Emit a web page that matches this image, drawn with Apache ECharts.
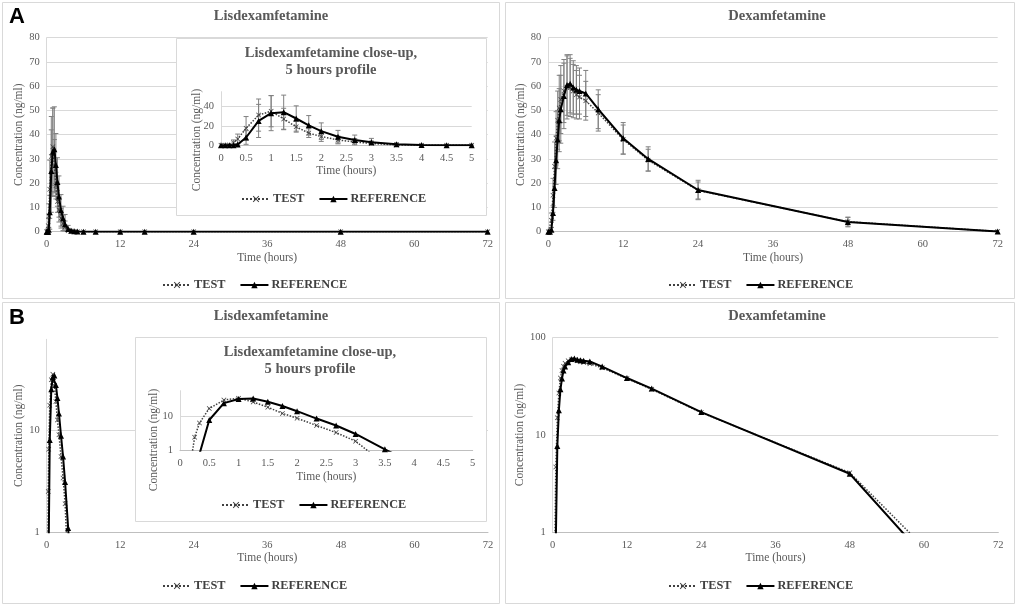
<!DOCTYPE html>
<html>
<head>
<meta charset="utf-8">
<script src="https://cdn.jsdelivr.net/npm/echarts@6/dist/echarts.min.js"></script>
<style>
  html, body { margin: 0; padding: 0; background: #fff; }
  #main { width: 1017px; height: 606px; }
</style>
</head>
<body>
<div id="main"></div>
<script>
// sampling times (hours)
var lisTimes = [0, 0.083, 0.167, 0.25, 0.333, 0.5, 0.75, 1, 1.25, 1.5, 1.75, 2, 2.333, 2.667, 3, 3.5, 4, 4.5, 5, 6, 8, 12, 16, 24, 48, 72];
var lisTest = [0, 0, 0.3, 2.5, 6.5, 17.5, 31, 35, 27, 19, 12.5, 9, 5.5, 3.4, 1.9, 0.4, 0.15, 0, 0, 0, 0, 0, 0, 0, 0, 0];
var lisRef = [0, 0, 0, 0, 0.8, 8, 25, 33, 34, 27.5, 20.5, 14.5, 8.8, 5.5, 3.1, 1.1, 0.4, 0.15, 0.05, 0, 0, 0, 0, 0, 0, 0];
var lisTestSD = [0, 0, 0.5, 3, 5, 12, 16.5, 16, 11, 5.5, 4.5, 5, 4, 3.5, 2.5, 1, 0.4, 0, 0, 0, 0, 0, 0, 0, 0, 0];
var lisRefSD = [0, 0, 0, 0, 1, 7, 17, 18, 17.5, 13, 10, 8.5, 6.5, 5, 4, 1.5, 0.6, 0.3, 0.2, 0, 0, 0, 0, 0, 0, 0];

var dexTimes = [0, 0.25, 0.5, 0.75, 1, 1.25, 1.5, 1.75, 2, 2.5, 3, 3.5, 4, 4.5, 5, 6, 8, 12, 16, 24, 48, 72];
var dexTest = [0, 0.2, 4.7, 15, 27, 38.5, 46, 51, 54.5, 58, 59.5, 59.5, 58, 56.5, 55.5, 54, 49, 38, 29.5, 17, 4.1, 0.12];
var dexRef = [0, 0, 0.8, 7.7, 18, 29.5, 38, 46, 50.5, 56, 60.5, 61, 59.5, 58.5, 58, 57, 50.5, 38.5, 30, 17.2, 4.0, 0.08];
var dexTestSD = [0, 0.5, 3, 7, 10, 11, 12, 13.5, 14, 13, 13, 12, 11, 10, 9, 8, 7.5, 6, 4.5, 3.5, 1.8, 0.2];
var dexRefSD = [0, 0, 1, 3, 8, 10, 12, 13, 14, 13.5, 12.5, 12, 11, 10, 9.5, 9.5, 8, 6.5, 5, 4, 2, 0.2];

var serif = 'Liberation Serif';
var grey = '#595959';
var xSym = 'path://M0,1 L1,0 L5,4 L9,0 L10,1 L6,5 L10,9 L9,10 L5,6 L1,10 L0,9 L4,5 Z';

function pairs(t, v, log) {
  return t.map(function (x, i) {
    return [x, (log && !(v[i] > 0)) ? '-' : v[i]];
  });
}
function bars(t, v, sd) {
  var out = [];
  t.forEach(function (x, i) {
    if (sd[i] > 0) out.push([x, v[i] - sd[i], v[i] + sd[i]]);
  });
  return out;
}
function renderErr(params, api) {
  var x = api.value(0);
  var p1 = api.coord([x, api.value(1)]);
  var p2 = api.coord([x, api.value(2)]);
  var w = 2.5;
  var st = { stroke: '#808080', lineWidth: 1 };
  return {
    type: 'group',
    children: [
      { type: 'line', shape: { x1: p1[0], y1: p1[1], x2: p2[0], y2: p2[1] }, style: st },
      { type: 'line', shape: { x1: p1[0] - w, y1: p1[1], x2: p1[0] + w, y2: p1[1] }, style: st },
      { type: 'line', shape: { x1: p2[0] - w, y1: p2[1], x2: p2[0] + w, y2: p2[1] }, style: st }
    ]
  };
}

var grids = [
  { left: 46.7, top: 37.7, width: 441, height: 194 },
  { left: 221, top: 91.7, width: 250.7, height: 53.6 },
  { left: 548.3, top: 37.7, width: 449.4, height: 194 },
  { left: 46.7, top: 339.3, width: 441.3, height: 193 },
  { left: 180, top: 390.7, width: 292.7, height: 60 },
  { left: 552.7, top: 337.7, width: 445.6, height: 194.6 }
];

function xAx(gi, max, step, z) {
  return {
    type: 'value', gridIndex: gi, min: 0, max: max, interval: step, z: z,
    name: 'Time (hours)', nameLocation: 'middle', nameGap: 20,
    nameTextStyle: { fontFamily: serif, fontSize: 11.5, color: grey },
    axisLine: { lineStyle: { color: '#bfbfbf' } },
    axisTick: { show: false },
    splitLine: { show: false },
    axisLabel: { fontFamily: serif, fontSize: 10.5, color: grey, margin: 7 }
  };
}
function yAx(gi, opt, named, z) {
  var a = {
    type: opt.log ? 'log' : 'value', gridIndex: gi, min: opt.min, max: opt.max, z: z,
    axisLine: { show: true, lineStyle: { color: '#d9d9d9' } },
    axisTick: { show: false },
    splitLine: { lineStyle: { color: '#d9d9d9' }, showMaxLine: opt.maxLine !== false },
    axisLabel: { fontFamily: serif, fontSize: 10.5, color: grey, margin: 7, showMaxLabel: opt.maxLine !== false }
  };
  if (opt.log) a.logBase = 10; else a.interval = opt.step;
  if (named) {
    a.name = 'Concentration (ng/ml)';
    a.nameLocation = 'middle';
    a.nameGap = 21;
    a.nameTextStyle = { fontFamily: serif, fontSize: 11.5, color: grey };
  }
  return a;
}

var xAxes = [xAx(0, 72, 12, 0), xAx(1, 5, 0.5, 4), xAx(2, 72, 12, 0), xAx(3, 72, 12, 0), xAx(4, 5, 0.5, 4), xAx(5, 72, 12, 0)];
var yAxes = [
  yAx(0, { min: 0, max: 80, step: 10 }, true, 0),
  yAx(1, { min: 0, max: 55, step: 20, maxLine: false }, false, 4),
  yAx(2, { min: 0, max: 80, step: 10 }, true, 0),
  yAx(3, { log: true, min: 1, max: 77, maxLine: false }, true, 0),
  yAx(4, { log: true, min: 1, max: 58, maxLine: false }, false, 4),
  yAx(5, { log: true, min: 1, max: 100 }, true, 0)
];

var series = [];
function addPanel(gi, t, test, ref, tsd, rsd, log, z) {
  if (!log) {
    series.push({ type: 'custom', name: 'sdT', xAxisIndex: gi, yAxisIndex: gi, z: z, renderItem: renderErr, data: bars(t, test, tsd), clip: true });
    series.push({ type: 'custom', name: 'sdR', xAxisIndex: gi, yAxisIndex: gi, z: z, renderItem: renderErr, data: bars(t, ref, rsd), clip: true });
  }
  series.push({
    type: 'line', name: 'TEST', xAxisIndex: gi, yAxisIndex: gi, z: z + 1,
    data: pairs(t, test, log), symbol: xSym, symbolSize: 5, clip: true,
    lineStyle: { color: '#404040', width: 1.5, type: 'dotted' },
    itemStyle: { color: '#404040' }
  });
  series.push({
    type: 'line', name: 'REFERENCE', xAxisIndex: gi, yAxisIndex: gi, z: z + 2,
    data: pairs(t, ref, log), symbol: 'triangle', symbolSize: 6, clip: true,
    lineStyle: { color: '#000', width: 2 },
    itemStyle: { color: '#000' }
  });
}
addPanel(0, lisTimes, lisTest, lisRef, lisTestSD, lisRefSD, false, 2);
addPanel(1, lisTimes, lisTest, lisRef, lisTestSD, lisRefSD, false, 6);
addPanel(2, dexTimes, dexTest, dexRef, dexTestSD, dexRefSD, false, 2);
addPanel(3, lisTimes, lisTest, lisRef, lisTestSD, lisRefSD, true, 2);
addPanel(4, lisTimes, lisTest, lisRef, lisTestSD, lisRefSD, true, 6);
addPanel(5, dexTimes, dexTest, dexRef, dexTestSD, dexRefSD, true, 2);

function ttl(text, cx, top) {
  return {
    text: text, left: cx, top: top, textAlign: 'center', padding: 0,
    textStyle: { fontFamily: serif, fontSize: 14.5, fontWeight: 'bold', color: grey, lineHeight: 17 }
  };
}
var titles = [
  ttl('Lisdexamfetamine', 271, 8),
  ttl('Dexamfetamine', 777, 8),
  ttl('Lisdexamfetamine', 271, 308),
  ttl('Dexamfetamine', 777, 308),
  ttl('Lisdexamfetamine close-up,\n5 hours profile', 331, 45),
  ttl('Lisdexamfetamine close-up,\n5 hours profile', 310, 344),
  { text: 'A', left: 9, top: 6, padding: 0, textStyle: { fontFamily: 'Liberation Sans', fontSize: 22, fontWeight: 'bold', color: '#000' } },
  { text: 'B', left: 9, top: 307, padding: 0, textStyle: { fontFamily: 'Liberation Sans', fontSize: 22, fontWeight: 'bold', color: '#000' } }
];

function leg(left, top) {
  return {
    data: ['TEST', 'REFERENCE'], left: left, top: top, padding: 0,
    itemWidth: 28, itemHeight: 8, itemGap: 14,
    textStyle: { fontFamily: serif, fontSize: 12.3, fontWeight: 'bold', color: '#404040', padding: [0, 0, 0, -2] }
  };
}
var legends = [leg(162, 279), leg(668, 279), leg(162, 580), leg(668, 580), leg(241, 193), leg(221, 499)];

function box(x, y, w, h, fill, z) {
  return { type: 'rect', z: z, shape: { x: x, y: y, width: w, height: h }, style: { fill: fill, stroke: '#d9d9d9', lineWidth: 1 } };
}
function vname(cx, cy) {
  return {
    type: 'text', x: cx, y: cy, rotation: Math.PI / 2, z: 4,
    style: { text: 'Concentration (ng/ml)', font: '11.5px "Liberation Serif"', fill: grey, align: 'center', verticalAlign: 'middle' }
  };
}

var myChart = echarts.init(document.getElementById('main'));
myChart.setOption({
  backgroundColor: '#fff',
  animation: false,
  title: titles,
  legend: legends,
  grid: grids,
  xAxis: xAxes,
  yAxis: yAxes,
  series: series,
  graphic: [
    box(2.5, 2.5, 497, 296, 'none', 0),
    box(505.5, 2.5, 509, 296, 'none', 0),
    box(2.5, 302.5, 497, 301, 'none', 0),
    box(505.5, 302.5, 509, 301, 'none', 0),
    box(176.5, 38.5, 310, 177, '#fff', 3),
    box(135.5, 337.5, 351, 184, '#fff', 3),
    vname(197, 140),
    vname(154, 440)
  ]
});
</script>
</body>
</html>
